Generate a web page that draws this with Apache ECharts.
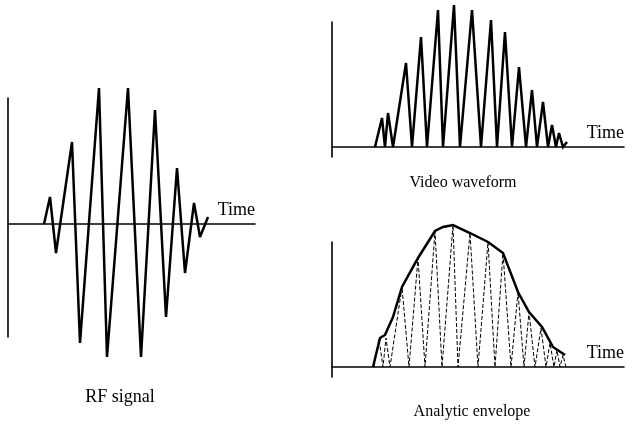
<!DOCTYPE html>
<html>
<head>
<meta charset="utf-8">
<script src="https://cdn.jsdelivr.net/npm/echarts@6/dist/echarts.min.js"></script>
<style>html,body{margin:0;padding:0;background:#fff}#c{width:626px;height:426px}</style>
</head>
<body>
<div id="c"></div>
<script>
// RF signal (time, amplitude)
var rfTime = [36, 42, 48, 64, 72, 91, 99, 120, 133, 147, 158, 169, 177, 186, 192, 200];
var rfAmp  = [0, 27, -29, 82, -119, 136, -133, 136, -133, 114, -93, 56, -49, 21, -13, 7];

// Video waveform (rectified)
var videoTime = [43, 50, 53, 56, 61, 74, 80, 89, 95, 106, 111, 122, 128, 140, 149, 159, 165, 173, 180, 187, 194, 200, 205, 211, 216, 220, 224, 227, 231, 235];
var videoAmp  = [0, 29, 0, 34, 0, 84, 0, 110, 0, 137, 0, 142, 0, 137, 0, 127, 0, 115, 0, 80, 0, 57, 0, 45, 0, 22, 0, 14, 0, 5];

// Analytic envelope
var envTime = [41, 48, 53, 61, 70, 86, 103, 111, 121, 138, 156, 171, 186, 197, 210, 221, 233];
var envAmp  = [0, 29, 32, 50, 80, 109, 136, 140, 142, 134, 125, 114, 75, 55, 40, 20, 12];

// Dashed carrier under the envelope
var carTime = [42, 47, 51, 54, 58, 70, 77, 86, 93, 103, 110, 121, 126, 138, 146, 156, 163, 171, 179, 186, 192, 197, 203, 209, 214, 218, 222, 225, 228, 231, 234];
var carAmp  = [0, 28, 0, 29, 0, 80, 0, 109, 0, 136, 0, 142, 0, 134, 0, 125, 0, 114, 0, 75, 0, 55, 0, 39, 0, 24, 0, 17, 0, 12, 0];

// Labels
var axisName = 'Time';
var panelTitles = ['RF signal', 'Video waveform', 'Analytic envelope'];

function zip(a, b) { return a.map(function (v, i) { return [v, b[i]]; }); }

var serif = '"Liberation Serif", "DejaVu Serif", serif';
var axisLineStyle = { color: '#000', width: 1.6 };

function xAx(idx, max) {
  return {
    type: 'value', gridIndex: idx, min: 0, max: max,
    axisLine: { show: true, onZero: true, lineStyle: axisLineStyle },
    axisTick: { show: false }, axisLabel: { show: false }, splitLine: { show: false },
    name: axisName, nameLocation: 'end', nameGap: 0,
    nameTextStyle: { fontFamily: serif, fontSize: 18, color: '#000', align: 'right', verticalAlign: 'bottom', padding: [0, 0, 5, 0] }
  };
}
function yAx(idx, min, max) {
  return {
    type: 'value', gridIndex: idx, min: min, max: max,
    axisLine: { show: true, onZero: false, lineStyle: axisLineStyle },
    axisTick: { show: false }, axisLabel: { show: false }, splitLine: { show: false }
  };
}
function lineSeries(idx, data, width, dashed) {
  return {
    type: 'line', xAxisIndex: idx, yAxisIndex: idx, data: data,
    symbol: 'none', clip: false, animation: false, silent: true,
    lineStyle: { color: '#000', width: width, type: dashed ? [4, 2] : 'solid', join: 'miter', miterLimit: 3 },
    z: dashed ? 2 : 3
  };
}

var chart = echarts.init(document.getElementById('c'), null, { renderer: 'canvas' });
chart.setOption({
  backgroundColor: '#fff',
  animation: false,
  grid: [
    { left: 8, top: 98, width: 247, height: 239 },
    { left: 332, top: 22, width: 292, height: 135 },
    { left: 332, top: 242, width: 292, height: 135 }
  ],
  xAxis: [xAx(0, 247), xAx(1, 292), xAx(2, 292)],
  yAxis: [yAx(0, -113, 126), yAx(1, -10, 125), yAx(2, -10, 125)],
  series: [
    lineSeries(0, zip(rfTime, rfAmp), 2.5, false),
    lineSeries(1, zip(videoTime, videoAmp), 2.5, false),
    lineSeries(2, zip(carTime, carAmp), 1, true),
    lineSeries(2, zip(envTime, envAmp), 2.5, false)
  ],
  graphic: [
    { type: 'text', x: 120, y: 397, style: { text: panelTitles[0], font: '18px ' + serif, fill: '#000', textAlign: 'center', textVerticalAlign: 'middle' } },
    { type: 'text', x: 463, y: 183, style: { text: panelTitles[1], font: '16px ' + serif, fill: '#000', textAlign: 'center', textVerticalAlign: 'middle' } },
    { type: 'text', x: 472, y: 412, style: { text: panelTitles[2], font: '16px ' + serif, fill: '#000', textAlign: 'center', textVerticalAlign: 'middle' } }
  ]
});
</script>
</body>
</html>
